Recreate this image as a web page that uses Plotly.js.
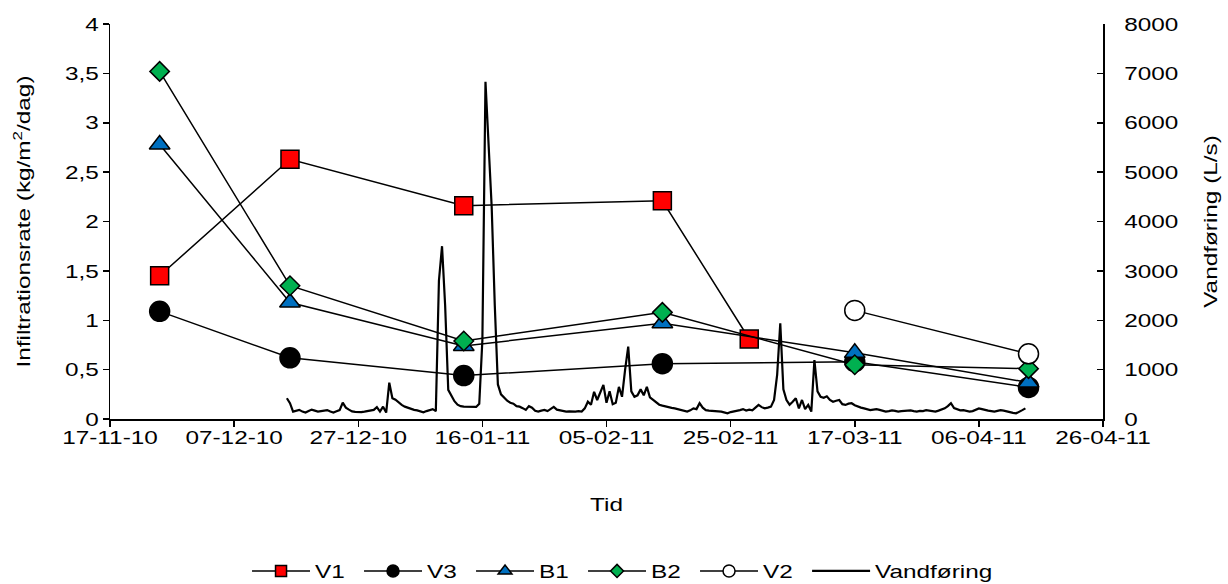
<!DOCTYPE html>
<html>
<head>
<meta charset="utf-8">
<script src="https://cdn.plot.ly/plotly-3.0.1.min.js"></script>
<style>
  html, body { margin: 0; padding: 0; background: #fff; }
  #chart { width: 1228px; height: 584px; }
</style>
</head>
<body>
<div id="chart"></div>
<script>
// Infiltration rate samples (kg/m2/dag) per site
const datesV1 = ['2010-11-25', '2010-12-16', '2011-01-13', '2011-02-14', '2011-02-28'];
const valuesV1 = [1.45, 2.63, 2.16, 2.21, 0.81];

const datesV3 = ['2010-11-25', '2010-12-16', '2011-01-13', '2011-02-14', '2011-03-17', '2011-04-14'];
const valuesV3 = [1.09, 0.62, 0.44, 0.56, 0.58, 0.32];

const datesB1 = ['2010-11-25', '2010-12-16', '2011-01-13', '2011-02-14', '2011-03-17', '2011-04-14'];
const valuesB1 = [2.78, 1.18, 0.74, 0.97, 0.67, 0.37];

const datesB2 = ['2010-11-25', '2010-12-16', '2011-01-13', '2011-02-14', '2011-03-17', '2011-04-14'];
const valuesB2 = [3.52, 1.35, 0.79, 1.08, 0.55, 0.51];

const datesV2 = ['2011-03-17', '2011-04-14'];
const valuesV2 = [1.10, 0.66];

// Discharge (L/s), 12-hourly readings starting at flowStart
const flowStart = '2010-12-15T12:00:00Z';
const flowStepHours = 12;
const flowValues = [
  420, 320, 150, 170, 185, 150, 130, 160, 190, 170,
  150, 160, 175, 180, 150, 130, 155, 180, 330, 230,
  190, 155, 145, 135, 140, 150, 160, 175, 185, 240,
  150, 250, 130, 735, 420, 390, 330, 285, 250, 225,
  210, 185, 175, 150, 135, 160, 180, 200, 160, 2800,
  3500, 2300, 590, 470, 360, 290, 260, 250, 245, 240,
  250, 245, 310, 1600, 6830, 5700, 4300, 2300, 700, 500,
  430, 370, 330, 310, 260, 250, 220, 185, 260, 230,
  165, 150, 170, 185, 160, 200, 245, 190, 175, 165,
  150, 155, 145, 150, 160, 150, 215, 350, 290, 550,
  385, 520, 690, 330, 560, 300, 330, 650, 450, 1000,
  1465, 560, 450, 480, 600, 480, 650, 440, 385, 330,
  290, 270, 250, 240, 225, 215, 200, 180, 165, 150,
  175, 215, 200, 320, 230, 180, 170, 160, 150, 155,
  150, 130, 115, 140, 150, 165, 180, 200, 170, 190,
  175, 230, 285, 240, 215, 230, 250, 385, 900, 1940,
  600, 385, 290, 350, 420, 215, 385, 200, 285, 150,
  1195, 560, 450, 430, 460, 385, 350, 370, 385, 300,
  285, 310, 320, 280, 250, 230, 215, 200, 180, 190,
  200, 185, 170, 150, 160, 175, 165, 150, 160, 170,
  180, 175, 160, 150, 165, 160, 180, 170, 155, 150,
  170, 190, 215, 260, 320, 220, 190, 175, 180, 160,
  150, 160, 185, 215, 200, 180, 170, 160, 150, 165,
  180, 170, 150, 130, 125, 115, 140, 180, 215
];

// Date axis ticks
const tickDates = ['2010-11-17', '2010-12-07', '2010-12-27', '2011-01-16', '2011-02-05',
                   '2011-02-25', '2011-03-17', '2011-04-06', '2011-04-26'];
const tickLabels = ['17-11-10', '07-12-10', '27-12-10', '16-01-11', '05-02-11',
                    '25-02-11', '17-03-11', '06-04-11', '26-04-11'];

const flowTimes = flowValues.map((_, i) => {
  const t = new Date(Date.parse(flowStart) + i * flowStepHours * 3600 * 1000);
  return t.toISOString().slice(0, 19).replace('T', ' ');
});

const FONT = '"Liberation Sans", Arial, Helvetica, sans-serif';
// The lettering of this chart is set wide; glyphs are widened by this factor.
const TEXT_WIDEN = 1.28;

const siteStyles = [
  { name: 'V1', x: datesV1, y: valuesV1, symbol: 'square', size: 18, legendSize: 11, color: '#FF0000' },
  { name: 'V3', x: datesV3, y: valuesV3, symbol: 'circle', size: 20, legendSize: 12, color: '#000000' },
  { name: 'B1', x: datesB1, y: valuesB1, symbol: 'triangle-up', size: 18, legendSize: 12, color: '#0070C0' },
  { name: 'B2', x: datesB2, y: valuesB2, symbol: 'diamond', size: 15, legendSize: 10, color: '#00B050' },
  { name: 'V2', x: datesV2, y: valuesV2, symbol: 'circle', size: 20, legendSize: 12, color: '#FFFFFF' }
];

function siteTrace(s, size, x, y, inLegend) {
  return {
    type: 'scatter', mode: 'lines+markers', name: s.name, x: x, y: y,
    showlegend: inLegend, legend: 'legend',
    line: { color: '#000', width: 1.5 },
    marker: { symbol: s.symbol, size: size, color: s.color, line: { color: '#000', width: 1.5 } },
    cliponaxis: false
  };
}

const traces = [];
// plotted series
siteStyles.forEach(s => traces.push(siteTrace(s, s.size, s.x, s.y, false)));
// legend keys with smaller symbols
siteStyles.forEach(s => traces.push(siteTrace(s, s.legendSize, [null], [null], true)));
traces.push({
  type: 'scatter', mode: 'lines', name: 'Vandføring',
  x: flowTimes, y: flowValues, yaxis: 'y2', legend: 'legend2',
  line: { color: '#000', width: 2.2 }
});

const legendCommon = {
  orientation: 'h', xanchor: 'left', y: -0.385, yanchor: 'middle',
  font: { family: FONT, size: 19, color: '#000' },
  itemwidth: 58, traceorder: 'normal', bgcolor: 'rgba(0,0,0,0)'
};

const layout = {
  width: 1228, height: 584,
  margin: { l: 110, r: 125, t: 24, b: 165, autoexpand: false },
  paper_bgcolor: '#fff', plot_bgcolor: '#fff',
  separators: ', ',
  font: { family: FONT, size: 19, color: '#000' },
  showlegend: true,
  legend: Object.assign({}, legendCommon, { x: 0.138, entrywidth: 39 }),
  legend2: Object.assign({}, legendCommon, { x: 0.702, entrywidth: 130 }),
  xaxis: {
    type: 'date', range: ['2010-11-17', '2011-04-26'],
    tickmode: 'array', tickvals: tickDates, ticktext: tickLabels,
    ticks: 'outside', ticklen: 6, tickwidth: 1.5, tickcolor: '#000',
    showline: true, linecolor: '#000', linewidth: 1.5,
    showgrid: false, zeroline: false,
    ticklabelstandoff: -5,
    tickfont: { family: FONT, size: 19 },
    title: { text: 'Tid', font: { family: FONT, size: 19 }, standoff: 50 }
  },
  yaxis: {
    range: [0, 4], tick0: 0, dtick: 0.5,
    ticks: 'outside', ticklen: 6, tickwidth: 1.5, tickcolor: '#000',
    showline: true, linecolor: '#000', linewidth: 1.5,
    showgrid: false, zeroline: false,
    tickfont: { family: FONT, size: 19 },
    title: { text: 'Infiltrationsrate (kg/m<sup>2</sup>/dag)', font: { family: FONT, size: 19 }, standoff: 36 }
  },
  yaxis2: {
    overlaying: 'y', side: 'right', range: [0, 8000], tick0: 0, dtick: 1000,
    ticks: 'inside', ticklen: 6, tickwidth: 1.5, tickcolor: '#000',
    showline: true, linecolor: '#000', linewidth: 1.5,
    showgrid: false, zeroline: false,
    tickfont: { family: FONT, size: 19 },
    ticklabelstandoff: 16,
    title: { text: 'Vandføring (L/s)', font: { family: FONT, size: 19 }, standoff: 38 }
  }
};

Plotly.newPlot('chart', traces, layout, { displayModeBar: false, staticPlot: true }).then(gd => {
  // widen every label around its own anchor point
  gd.querySelectorAll('svg text').forEach(t => {
    const len = t.getComputedTextLength();
    if (len > 0) {
      t.setAttribute('textLength', (len * TEXT_WIDEN).toFixed(1));
      t.setAttribute('lengthAdjust', 'spacingAndGlyphs');
    }
  });
});
</script>
</body>
</html>
